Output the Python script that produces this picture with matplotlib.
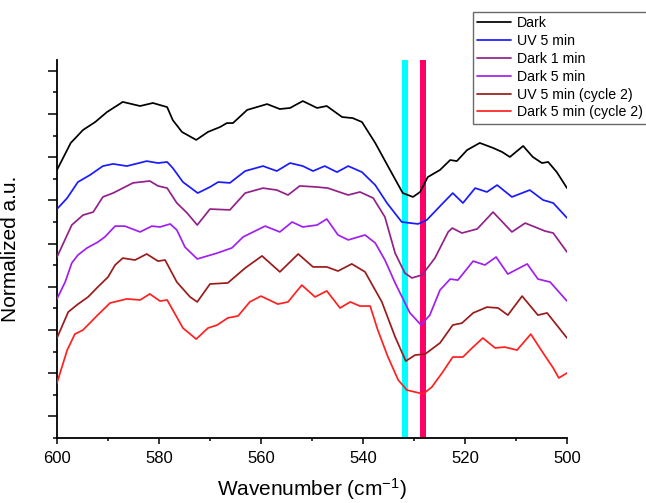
import matplotlib
matplotlib.use('Agg')
import matplotlib.pyplot as plt
from matplotlib.ticker import MultipleLocator

plt.rcParams['font.family'] = ['Liberation Sans', 'DejaVu Sans']
plt.rcParams['mathtext.default'] = 'regular'

#---    Data (wavenumber, normalized a.u. with offsets)
wn_dark = [600, 597.3, 594.9, 592.5, 590.2, 587.1, 583.7, 581.2, 578.4, 577.3, 575.5, 572.7,
           570.4, 568.0, 566.7, 565.5, 562.7, 558.8, 556.3, 554.3, 551.8, 549.0, 547.1, 544.1,
           542.0, 540.2, 537.6, 534.7, 532.2, 530.2, 528.8, 527.3, 524.9, 522.9, 521.6, 519.6,
           517.1, 514.5, 512.7, 511.2, 508.6, 506.7, 504.9, 503.7, 502.0, 500.0]
y_dark = [11.41, 12.66, 13.26, 13.63, 14.09, 14.56, 14.37, 14.51, 14.32, 13.72, 13.17, 12.80,
          13.17, 13.40, 13.58, 13.58, 14.19, 14.46, 14.23, 14.28, 14.60, 14.28, 14.37, 13.86,
          13.81, 13.63, 12.66, 11.41, 10.34, 10.16, 10.39, 11.08, 11.41, 11.87, 11.82, 12.33,
          12.66, 12.43, 12.24, 12.01, 12.52, 12.01, 11.73, 11.78, 11.31, 10.57]

wn_uv = [600, 598.0, 595.9, 593.5, 591.0, 589.0, 586.3, 582.4, 580.2, 578.4, 577.3, 575.3,
         572.4, 570.0, 568.4, 566.1, 563.1, 559.6, 556.9, 554.3, 551.8, 549.8, 547.5, 545.1,
         542.9, 540.2, 537.6, 535.3, 532.4, 529.2, 527.5, 524.3, 522.4, 520.4, 518.0, 515.7,
         513.7, 510.8, 507.3, 504.7, 502.7, 500.0]
y_uv = [9.60, 10.11, 10.85, 11.18, 11.59, 11.69, 11.59, 11.82, 11.73, 11.78, 11.50, 10.85,
        10.34, 10.62, 10.85, 10.81, 11.36, 11.59, 11.36, 11.73, 11.59, 11.36, 11.59, 11.31,
        11.59, 11.31, 10.71, 9.88, 9.00, 8.91, 9.09, 9.88, 10.34, 9.88, 10.57, 10.39,
        10.71, 10.16, 10.48, 10.02, 9.88, 9.19]

wn_dark1 = [600, 597.1, 594.9, 592.9, 591.0, 589.0, 585.1, 581.8, 580.2, 578.4, 576.5, 574.5,
            572.5, 570.0, 566.1, 563.1, 559.6, 556.9, 554.7, 552.4, 549.0, 546.9, 542.9, 540.6,
            538.0, 535.7, 533.7, 531.8, 530.4, 528.4, 525.9, 523.3, 522.5, 520.6, 517.6, 514.5,
            510.8, 508.2, 504.3, 502.7, 500.0]
y_dark1 = [7.38, 8.86, 9.32, 9.46, 10.16, 10.34, 10.81, 10.90, 10.67, 10.57, 9.88, 9.42,
           8.86, 9.60, 9.56, 10.34, 10.57, 10.48, 10.25, 10.67, 10.62, 10.57, 10.25, 10.39,
           10.11, 9.23, 7.56, 6.64, 6.41, 6.55, 7.33, 8.54, 8.72, 8.49, 8.68, 9.46,
           8.54, 8.95, 8.58, 8.49, 7.61]

wn_dark5 = [600, 598.4, 597.1, 595.9, 594.1, 592.0, 590.6, 588.6, 586.7, 583.7, 581.4, 579.8,
            577.8, 576.5, 574.9, 572.5, 568.6, 565.7, 563.5, 559.2, 556.3, 553.9, 551.8, 549.0,
            547.1, 544.9, 542.9, 539.6, 537.6, 535.7, 533.7, 530.8, 528.6, 526.9, 524.9, 522.9,
            521.4, 518.4, 516.1, 513.9, 511.6, 507.8, 505.7, 503.3, 500.0]
y_dark5 = [5.44, 6.22, 7.10, 7.47, 7.80, 8.07, 8.31, 8.81, 8.81, 8.54, 8.81, 8.77,
           8.91, 8.63, 7.84, 7.29, 7.56, 7.80, 8.31, 8.81, 8.54, 9.00, 8.77, 8.86,
           9.14, 8.40, 8.17, 8.40, 8.03, 7.24, 6.18, 4.79, 4.23, 4.69, 5.85, 6.36,
           6.31, 7.19, 7.01, 7.38, 6.59, 7.06, 6.36, 6.22, 5.34]

wn_uv2 = [600, 597.8, 596.1, 593.9, 592.0, 590.0, 588.6, 587.1, 584.7, 582.4, 580.2, 578.8,
          576.5, 573.9, 572.5, 570.0, 566.5, 563.1, 559.8, 556.3, 552.7, 549.8, 547.1, 544.9,
          542.2, 539.6, 536.3, 533.7, 531.6, 529.8, 527.8, 524.9, 522.4, 520.6, 518.4, 515.7,
          513.5, 511.6, 508.8, 505.7, 503.9, 500.0]
y_uv2 = [3.63, 4.83, 5.16, 5.53, 5.99, 6.45, 7.01, 7.33, 7.24, 7.52, 7.19, 7.24,
         6.22, 5.53, 5.30, 6.13, 6.18, 6.87, 7.43, 6.69, 7.52, 6.92, 6.92, 6.73,
         7.06, 6.69, 5.30, 3.68, 2.56, 2.84, 2.89, 3.40, 4.23, 4.32, 4.79, 5.06,
         5.02, 4.69, 5.57, 4.69, 4.79, 3.63]

wn_dark5c2 = [600, 598.0, 596.5, 594.9, 592.2, 589.6, 586.3, 583.7, 581.8, 579.8, 578.4, 577.3,
              575.3, 572.7, 570.4, 568.6, 566.5, 564.5, 562.2, 560.0, 556.7, 554.7, 552.0, 549.4,
              547.1, 544.5, 542.5, 540.6, 538.6, 537.1, 535.1, 533.1, 531.4, 529.8, 528.2, 526.5,
              524.5, 522.4, 520.4, 518.6, 516.5, 514.1, 512.2, 509.8, 507.1, 504.7, 502.7, 501.6,
              500.0]
y_dark5c2 = [1.55, 3.07, 3.81, 4.00, 4.65, 5.25, 5.44, 5.39, 5.67, 5.34, 5.39, 4.93,
             4.09, 3.58, 4.09, 4.23, 4.56, 4.65, 5.30, 5.57, 5.20, 5.30, 6.08, 5.53,
             5.81, 5.02, 5.30, 5.11, 5.11, 4.00, 2.75, 1.69, 1.22, 1.13, 1.04, 1.36,
             2.01, 2.75, 2.75, 3.17, 3.63, 3.17, 3.21, 3.07, 3.81, 2.94, 2.24, 1.78,
             2.01]

labels = ['Dark', 'UV 5 min', 'Dark 1 min', 'Dark 5 min', 'UV 5 min (cycle 2)', 'Dark 5 min (cycle 2)']
colors = ['black', '#1a1aff', '#93218a', '#a020f0', '#9b1b1b', '#ff2020']

# marker bands
band_cyan = (531.1, 532.4)
band_pink = (527.6, 528.9)

fs_label = 15
fs_ticks = 12

fig = plt.figure(figsize=(6.46, 5.03), dpi=100)
ax = fig.add_axes([0.0882, 0.1292, 0.7895, 0.7515])

ax.axvspan(band_cyan[0], band_cyan[1], color='#00ffff', lw=0, zorder=1)
ax.axvspan(band_pink[0], band_pink[1], color='#ff0066', lw=0, zorder=1)

series = [(wn_dark, y_dark), (wn_uv, y_uv), (wn_dark1, y_dark1),
          (wn_dark5, y_dark5), (wn_uv2, y_uv2), (wn_dark5c2, y_dark5c2)]
for (x, y), lab, col in zip(series, labels, colors):
    ax.plot(x, y, color=col, linewidth=1.25, label=lab, zorder=3,
            solid_joinstyle='round', solid_capstyle='round')

ax.set_xlim(600, 500)
ax.set_ylim(-1, 16.5)
ax.xaxis.set_major_locator(MultipleLocator(20))
ax.xaxis.set_minor_locator(MultipleLocator(10))
ax.yaxis.set_major_locator(MultipleLocator(2))
ax.yaxis.set_minor_locator(MultipleLocator(1))
ax.set_yticklabels([])

for s in ['top', 'right']:
    ax.spines[s].set_visible(False)
for s in ['left', 'bottom']:
    ax.spines[s].set_linewidth(1.3)

ax.tick_params(axis='x', which='major', direction='out', length=4.5, width=1.1, labelsize=fs_ticks, pad=5)
ax.tick_params(axis='x', which='minor', direction='out', length=2.5, width=1.1)
ax.tick_params(axis='y', which='major', direction='out', length=6.5, width=1.1)
ax.tick_params(axis='y', which='minor', direction='out', length=3.2, width=1.1)

ax.set_xlabel('Wavenumber (cm$^{-1}$)', fontsize=fs_label, labelpad=7)
ax.set_ylabel('Normalized a.u.', fontsize=fs_label)
ax.yaxis.set_label_coords(-0.072, 0.5)

leg = ax.legend(loc='upper left', bbox_to_anchor=(0.732, 0.976), bbox_transform=fig.transFigure,
                fontsize=10.2, frameon=True, fancybox=False, borderaxespad=0, labelspacing=0.27,
                handlelength=2.4, handletextpad=0.4, borderpad=0.3)
leg.get_frame().set_edgecolor('#444444')
leg.get_frame().set_linewidth(1.0)

plt.savefig('out.png', dpi=100)
